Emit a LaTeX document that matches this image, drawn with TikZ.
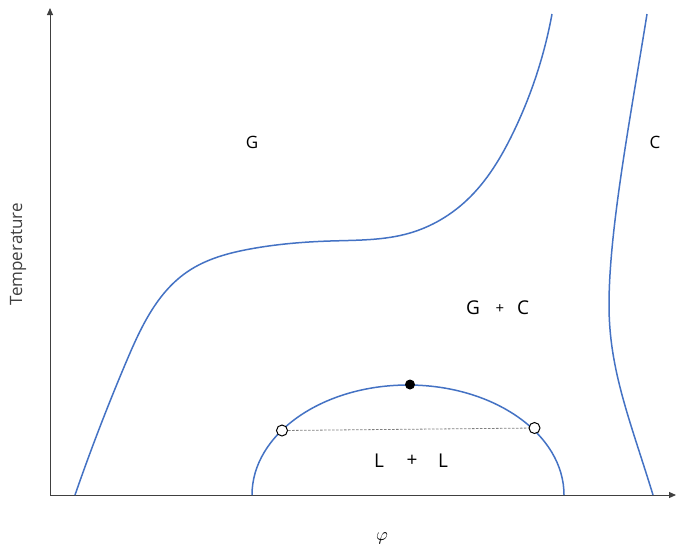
\documentclass[tikz,border=0pt]{standalone}
\usepackage{fontspec}
\setmainfont{Open Sans}
\usetikzlibrary{arrows.meta,hobby}
\definecolor{curveblue}{HTML}{4472C4}
\definecolor{axisgray}{HTML}{404040}
\tikzset{
  axis/.style={draw=axisgray, line width=1pt, -{Triangle[length=7pt,width=6pt]}},
  phase/.style={draw=curveblue, line width=1.5pt},
  lbl/.style={inner sep=0pt, text=black, font=\fontsize{17}{20}\selectfont},
  opendot/.style={circle, draw=black, fill=white, line width=1pt, minimum size=11pt, inner sep=0pt},
  filldot/.style={circle, fill=black, minimum size=10pt, inner sep=0pt},
  tieline/.style={draw=gray, line width=0.8pt, dash pattern=on 2.5pt off 1.5pt}
}
\begin{document}
\begin{tikzpicture}[x=1pt, y=-1pt]
\useasboundingbox[fill=white] (0,0) rectangle (676,547);
% axes
\coordinate (O) at (50,495);
\coordinate (ytop) at (50,8);
\coordinate (xend) at (676,495);
\draw[axis] (O) -- (ytop);
\draw[axis] (O) -- (xend);
% left boundary curve
\draw[phase, use Hobby shortcut] (75,495) .. (127,360) .. (187,272) .. (250,249) .. (330,241) .. (410,233) .. (467,200) .. (513,133) .. (552,14);
% right boundary curve
\draw[phase] (647,14) .. controls (630,120) and (609,230) .. (609,305)
  .. controls (609,370) and (630,420) .. (653,495);
% dome
\draw[phase] (252,495) arc[start angle=180, end angle=0, x radius=156, y radius=-110];
% points
\node[opendot] (p1) at (282,430.5) {};
\node[opendot] (p2) at (534.5,428) {};
\node[filldot] (pc) at (410,384.5) {};
\draw[tieline] (p1) -- (p2);
% labels
\node[lbl] (G) at (252,142) {G};
\node[lbl] (C) at (655,142) {C};
\node[lbl, font=\fontsize{19}{22}\selectfont] (GC1) at (473,308) {G};
\node[lbl, font=\fontsize{15}{18}\selectfont] (GCp) at (500,309) {+};
\node[lbl, font=\fontsize{19}{22}\selectfont] (GC2) at (523,308) {C};
\node[lbl, font=\fontsize{19}{22}\selectfont] (LL1) at (379,461) {L};
\node[lbl, font=\fontsize{19}{22}\selectfont] (LLp) at (412,461) {+};
\node[lbl, font=\fontsize{19}{22}\selectfont] (LL2) at (443,461) {L};
\node[lbl, text=axisgray, rotate=90] (T) at (18,254) {Temperature};
\node[inner sep=0pt, scale=1.8] (phi) at (382,538) {$\varphi$};
\end{tikzpicture}
\end{document}
